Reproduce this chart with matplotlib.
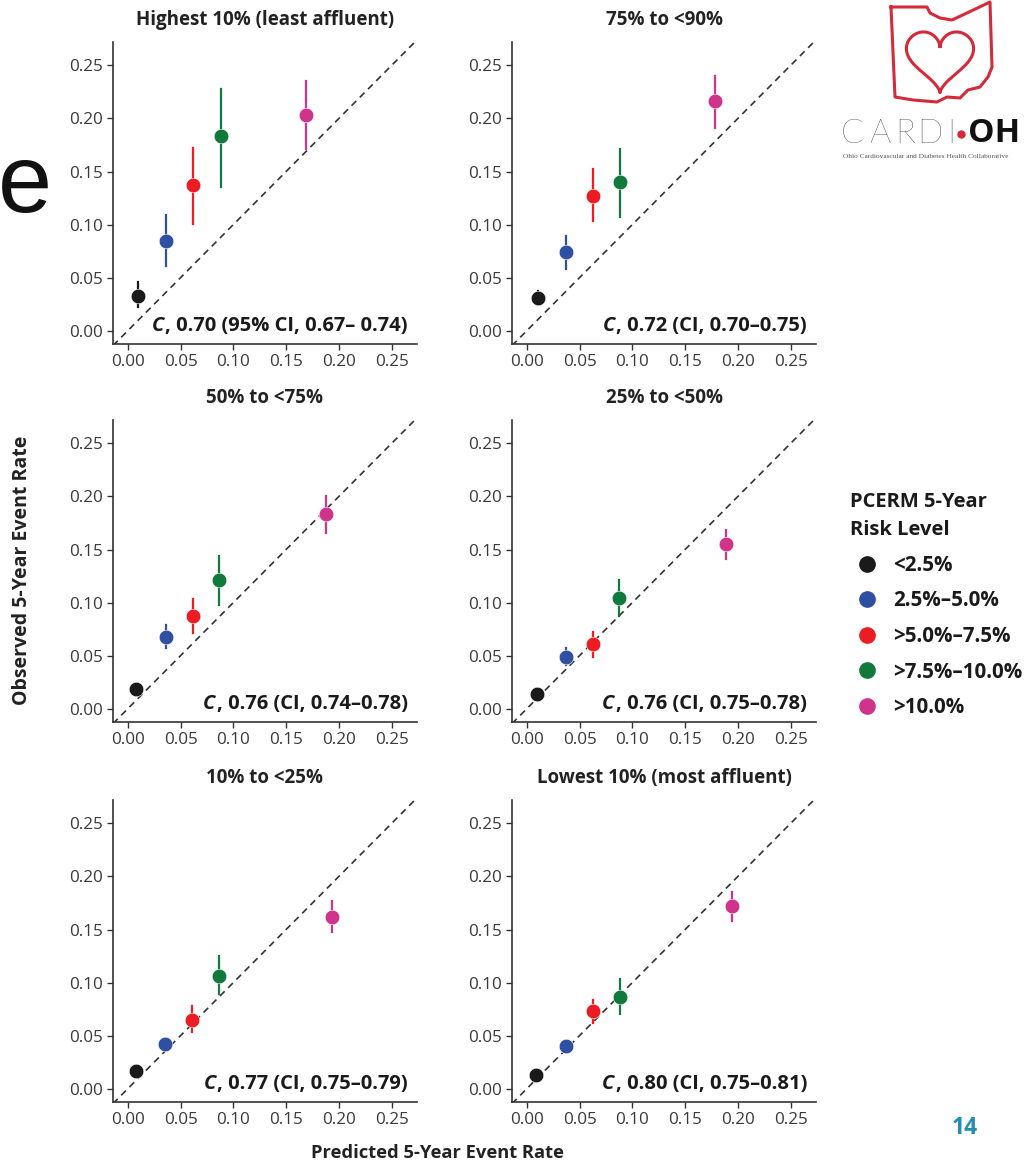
import numpy as np
import matplotlib
matplotlib.use("Agg")
from matplotlib import pyplot as plt
from matplotlib.lines import Line2D
from matplotlib.offsetbox import TextArea, HPacker, AnchoredOffsetbox

plt.rcParams['font.family'] = ['Open Sans', 'DejaVu Sans']

# panel titles and C-statistic notes
titles = ["Highest 10% (least affluent)", "75% to <90%",
          "50% to <75%", "25% to <50%",
          "10% to <25%", "Lowest 10% (most affluent)"]
cstat_notes = [", 0.70 (95% CI, 0.67\u2013 0.74)", ", 0.72 (CI, 0.70\u20130.75)",
               ", 0.76 (CI, 0.74\u20130.78)", ", 0.76 (CI, 0.75\u20130.78)",
               ", 0.77 (CI, 0.75\u20130.79)", ", 0.80 (CI, 0.75\u20130.81)"]

risk_levels = ["<2.5%", "2.5%\u20135.0%", ">5.0%\u20137.5%", ">7.5%\u201310.0%", ">10.0%"]
colors = ["#1a1a1a", "#2f4fa2", "#ec1c24", "#10793b", "#d0348a"]

# predicted rate (x), observed rate (y), 95% CI low/high for each panel
predicted = [
    [0.010, 0.036, 0.062, 0.088, 0.169],
    [0.011, 0.037, 0.063, 0.088, 0.178],
    [0.008, 0.036, 0.062, 0.086, 0.188],
    [0.010, 0.037, 0.063, 0.087, 0.189],
    [0.008, 0.035, 0.061, 0.086, 0.193],
    [0.009, 0.037, 0.063, 0.088, 0.194],
]
observed = [
    [0.033, 0.085, 0.137, 0.183, 0.203],
    [0.031, 0.074, 0.127, 0.140, 0.216],
    [0.019, 0.068, 0.087, 0.121, 0.183],
    [0.014, 0.049, 0.061, 0.104, 0.155],
    [0.017, 0.042, 0.065, 0.106, 0.162],
    [0.013, 0.040, 0.073, 0.086, 0.172],
]
ci_low = [
    [0.022, 0.061, 0.101, 0.135, 0.171],
    [0.025, 0.058, 0.103, 0.107, 0.191],
    [0.015, 0.057, 0.071, 0.098, 0.166],
    [0.011, 0.041, 0.049, 0.087, 0.141],
    [0.014, 0.037, 0.053, 0.089, 0.148],
    [0.010, 0.036, 0.062, 0.070, 0.158],
]
ci_high = [
    [0.046, 0.109, 0.172, 0.228, 0.235],
    [0.037, 0.089, 0.152, 0.171, 0.240],
    [0.023, 0.079, 0.103, 0.144, 0.200],
    [0.018, 0.057, 0.072, 0.121, 0.168],
    [0.020, 0.047, 0.078, 0.125, 0.177],
    [0.016, 0.044, 0.084, 0.103, 0.185],
]
ticks = [0.00, 0.05, 0.10, 0.15, 0.20, 0.25]

W, H = 1033, 1164
fig = plt.figure(figsize=(W / 100, H / 100), dpi=100)

col_left = [113, 512]
row_top = [42, 420, 800]
ax_w, ax_h = 304, 302

for i in range(6):
    r, c = divmod(i, 2)
    ax = fig.add_axes([col_left[c] / W, 1 - (row_top[r] + ax_h) / H, ax_w / W, ax_h / H])
    lims = (-0.014, 0.274)
    ax.plot(lims, lims, ls=(0, (4, 3)), color="#333333", lw=1.2, zorder=1)
    for k in range(5):
        ax.plot([predicted[i][k], predicted[i][k]], [ci_low[i][k], ci_high[i][k]],
                color=colors[k], lw=1.6, zorder=2)
        ax.plot(predicted[i][k], observed[i][k], 'o', color=colors[k], ms=10.5,
                mec='white', mew=0.4, zorder=3)
    ax.set_xlim(lims)
    ax.set_ylim(-0.0125, 0.272)
    ax.set_xticks(ticks)
    ax.set_yticks(ticks)
    ax.set_xticklabels([f"{t:.2f}" for t in ticks])
    ax.set_yticklabels([f"{t:.2f}" for t in ticks])
    ax.tick_params(labelsize=12.3, labelcolor="#3a3a3a", color="#333333", length=4, width=1, pad=3)
    for s in ["top", "right"]:
        ax.spines[s].set_visible(False)
    for s in ["left", "bottom"]:
        ax.spines[s].set_color("#333333")
        ax.spines[s].set_linewidth(1.2)
    ax.set_title(titles[i], fontsize=13.5, fontweight='bold', color="#222222", pad=12)

    note_props = dict(fontsize=14.5, fontweight='bold', color="#1a1a1a")
    c_part = TextArea("C", textprops=dict(note_props, fontstyle='italic'))
    rest_part = TextArea(cstat_notes[i], textprops=note_props)
    box = HPacker(children=[c_part, rest_part], align='baseline', pad=0, sep=1)
    anchored = AnchoredOffsetbox(loc='lower right', child=box, pad=0, borderpad=0, frameon=False,
                                 bbox_to_anchor=(0.97, 0.028), bbox_transform=ax.transAxes)
    ax.add_artist(anchored)

fig.text(22 / W, 1 - 570 / H, "Observed 5-Year Event Rate", rotation=90, ha='center', va='center',
         fontsize=14, fontweight='bold', color="#222222")
fig.text(437 / W, 1 - 1153 / H, "Predicted 5-Year Event Rate", ha='center', va='center',
         fontsize=13.2, fontweight='bold', color="#222222")

# legend
handles = [Line2D([], [], marker='o', ls='none', color=col, ms=11) for col in colors]
leg = fig.legend(handles, risk_levels, loc='upper left', bbox_to_anchor=(850 / W, 1 - 492 / H),
                 frameon=False, prop={'size': 14.8, 'weight': 'bold'},
                 title="PCERM 5-Year\nRisk Level",
                 title_fontproperties={'weight': 'bold', 'size': 14.5},
                 handlelength=1.7, handletextpad=0.38, labelspacing=0.71,
                 borderpad=0, borderaxespad=0, alignment='left')
for t in leg.get_texts():
    t.set_color("#1a1a1a")
leg.get_title().set_color("#1a1a1a")
leg.get_title().set_linespacing(1.55)

# slide leftovers: fragment of title, page number, logo
fig.text(52 / W, 1 - 212 / H, "e", fontsize=70, ha='right', va='baseline', color="#111111",
         family=['Liberation Sans', 'DejaVu Sans'])
fig.text(965 / W, 1 - 1128 / H, "14", fontsize=16.5, fontweight='bold', color="#1f8fb3",
         ha='center', va='center')

logo = fig.add_axes([820 / W, 1 - 175 / H, 213 / W, 175 / H])
logo.set_xlim(0, 213)
logo.set_ylim(175, 0)
logo.axis('off')
ohio_x = [71, 107, 110, 120, 132, 147, 170, 172, 168, 160, 148, 140, 127, 117, 93, 75, 71]
ohio_y = [7, 7, 13, 18, 20, 13, 2, 67, 77, 87, 90, 98, 97, 102, 100, 97, 7]
logo.plot(ohio_x, ohio_y, color="#d42a3a", lw=2.2)
t = np.linspace(0, 2 * np.pi, 300)
hx = 16 * np.sin(t) ** 3
hy = 13 * np.cos(t) - 5 * np.cos(2 * t) - 2 * np.cos(3 * t) - np.cos(4 * t)
logo.plot(120 + hx * 2.1, 57 - hy * 2.1, color="#d42a3a", lw=2.2)
for letter, lx in zip("CARDI", [32, 60, 85, 110, 131]):
    logo.text(lx, 134, letter, fontsize=24, color="#111111", va='center', ha='center',
              family=['Lato', 'DejaVu Sans'], fontweight='light')
logo.plot([141], [134], 'o', color="#d42a3a", ms=5)
logo.text(148, 134, "OH", fontsize=24, color="#111111", va='center', ha='left', fontweight='bold',
          clip_on=False)
logo.text(23, 157, "Ohio Cardiovascular and Diabetes Health Collaborative", fontsize=5.3,
          color="#555555", va='center', ha='left', family=['Liberation Serif', 'DejaVu Serif'])

fig.savefig("out.png", dpi=100, facecolor='white')
